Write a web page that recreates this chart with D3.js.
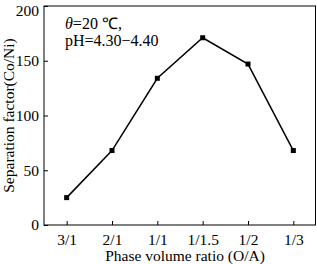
<!DOCTYPE html>
<html>
<head>
<meta charset="utf-8">
<script src="https://cdn.jsdelivr.net/npm/d3@7"></script>
<style>
  body { margin: 0; background: #fff; }
  svg { display: block; font-family: "Liberation Serif", "Times New Roman", serif; }
</style>
</head>
<body>
<svg id="svg"></svg>
<script>
const width = 317;
const height = 264;

const ratios = ["3/1", "2/1", "1/1", "1/1.5", "1/2", "1/3"];
const factors = [25, 68, 134, 171, 147, 68];
const yTicks = [0, 50, 100, 150, 200];

const margin = { top: 6, right: 1, bottom: 39, left: 44 };

const svg = d3.select("#svg")
  .attr("width", width)
  .attr("height", height);

const x = d3.scalePoint()
  .domain(ratios)
  .range([margin.left, width - margin.right])
  .padding(0.5);

const y = d3.scaleLinear()
  .domain([0, 200])
  .range([height - margin.bottom, margin.top]);

// frame
svg.append("rect")
  .attr("x", margin.left)
  .attr("y", margin.top)
  .attr("width", width - margin.left - margin.right - 0.5)
  .attr("height", height - margin.top - margin.bottom)
  .attr("fill", "none")
  .attr("stroke", "#000")
  .attr("stroke-width", 1);

const xAxis = svg.append("g")
  .attr("transform", `translate(0,${height - margin.bottom})`)
  .call(d3.axisBottom(x).tickSizeInner(-4).tickSizeOuter(0).tickPadding(9));

const yAxis = svg.append("g")
  .attr("transform", `translate(${margin.left},0)`)
  .call(d3.axisLeft(y).tickValues(yTicks).tickSizeInner(-4).tickSizeOuter(0).tickPadding(5));

[xAxis, yAxis].forEach(a => {
  a.select(".domain").remove();
  a.selectAll("text").attr("font-size", 15.5).attr("font-family", "Liberation Serif").attr("fill", "#000");
  a.selectAll("line").attr("stroke", "#000");
});

// keep the top label inside the picture
yAxis.selectAll(".tick text").filter(d => d === 200).attr("dy", "0.62em");

const line = d3.line()
  .x((d, i) => x(ratios[i]))
  .y(d => y(d));

svg.append("path")
  .datum(factors)
  .attr("d", line)
  .attr("fill", "none")
  .attr("stroke", "#000")
  .attr("stroke-width", 1.5);

svg.selectAll("rect.pt")
  .data(factors)
  .enter().append("rect")
  .attr("class", "pt")
  .attr("x", (d, i) => x(ratios[i]) - 2.5)
  .attr("y", d => y(d) - 2.5)
  .attr("width", 5)
  .attr("height", 5)
  .attr("fill", "#000");

// annotation
const note = svg.append("text")
  .attr("x", 65)
  .attr("y", 29)
  .attr("font-size", 16);
note.append("tspan").attr("font-style", "italic").text("θ");
note.append("tspan").text("=20 ℃,");

svg.append("text")
  .attr("x", 65)
  .attr("y", 46)
  .attr("font-size", 16)
  .text("pH=4.30−4.40");

// axis titles
svg.append("text")
  .attr("x", 185)
  .attr("y", 261)
  .attr("text-anchor", "middle")
  .attr("font-size", 15.5)
  .text("Phase volume ratio (O/A)");

svg.append("text")
  .attr("transform", `translate(14,${(margin.top + height - margin.bottom) / 2}) rotate(-90)`)
  .attr("text-anchor", "middle")
  .attr("font-size", 15.5)
  .text("Separation factor(Co/Ni)");
</script>
</body>
</html>
